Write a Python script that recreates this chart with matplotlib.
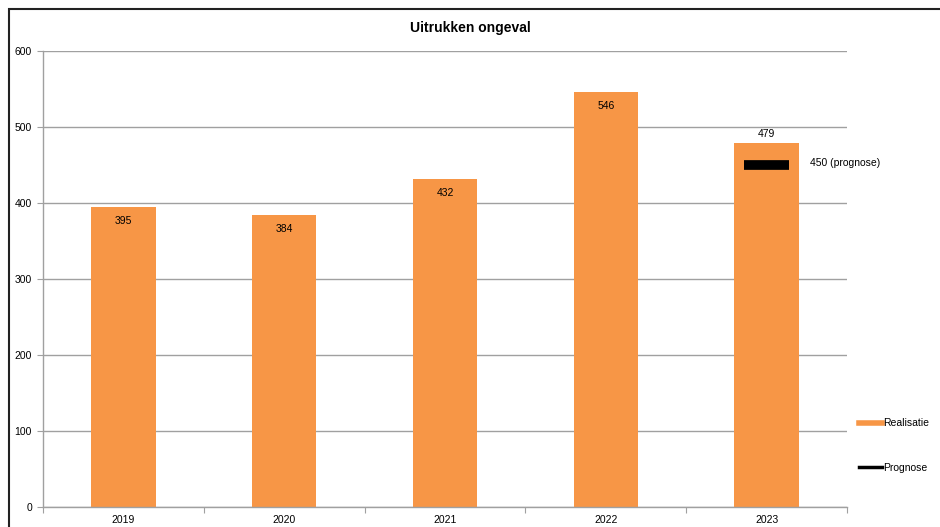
import matplotlib
matplotlib.use("Agg")
import matplotlib.pyplot as plt
from matplotlib.patches import Rectangle
from matplotlib.lines import Line2D
import numpy as np

plt.rcParams['font.family'] = ['Liberation Sans', 'DejaVu Sans']

years = ['2019', '2020', '2021', '2022', '2023']
realisatie = [395, 384, 432, 546, 479]
prognose_year = '2023'
prognose_value = 450
title = 'Uitrukken ongeval'

W, H = 940, 527
fig = plt.figure(figsize=(W / 100, H / 100), dpi=100)
fig.patch.set_facecolor('white')

# outer chart border (cropped on right and bottom)
fig.add_artist(Rectangle((9 / W, -0.1), 1.2, 1 - 9 / H + 0.1, transform=fig.transFigure,
                         fill=False, edgecolor='#222222', linewidth=1.5))

ax = fig.add_axes([43 / W, 1 - 507 / H, (847 - 43) / W, (507 - 51) / H])
x = np.arange(len(years))
orange = '#F79646'
bars = ax.bar(x, realisatie, width=0.40, color=orange, zorder=2)

ax.set_xlim(-0.5, len(years) - 0.5)
ax.set_ylim(0, 600)
ax.set_yticks(np.arange(0, 601, 100))
ax.yaxis.grid(True, color='#A0A0A0', linewidth=1.0, zorder=0)
ax.set_axisbelow(True)
for s in ['top', 'right']:
    ax.spines[s].set_visible(False)
for s in ['left', 'bottom']:
    ax.spines[s].set_color('#A0A0A0')
    ax.spines[s].set_linewidth(1.0)

ax.set_xticks(np.arange(-0.5, len(years) + 0.5, 1.0))
ax.set_xticklabels([])
ax.set_xticks(x, minor=True)
ax.set_xticklabels(years, minor=True)
ax.tick_params(axis='x', which='minor', length=0, labelsize=7.5, pad=6)
ax.tick_params(axis='x', which='major', length=4, color='#A0A0A0', direction='out')
ax.tick_params(axis='y', length=4, color='#A0A0A0', labelsize=7.5, pad=4)

pi = years.index(prognose_year)
for i, v in enumerate(realisatie):
    if i == pi:
        ax.text(i, v + 5, str(v), ha='center', va='bottom', fontsize=7.5)
    else:
        ax.text(i, v - 12, str(v), ha='center', va='top', fontsize=7.5)

# prognose marker
ax.plot([pi - 0.14, pi + 0.14], [prognose_value, prognose_value], color='black',
        linewidth=7, solid_capstyle='butt', zorder=3)
ax.text(pi + 0.27, prognose_value + 2, f'{prognose_value} (prognose)', ha='left',
        va='center', fontsize=7.5)

fig.text(0.5, 1 - 28 / H, title, ha='center', va='center', fontsize=10, fontweight='bold')

handles = [Line2D([0], [0], color=orange, linewidth=4),
           Line2D([0], [0], color='black', linewidth=2.5)]
leg = fig.legend(handles, ['Realisatie', 'Prognose'], loc='upper left',
                 bbox_to_anchor=(854 / W, 1 - 413 / H), frameon=False, fontsize=7.5,
                 handlelength=2.2, handletextpad=0.1, labelspacing=3.35, borderpad=0)

fig.savefig('out.png', dpi=100)
